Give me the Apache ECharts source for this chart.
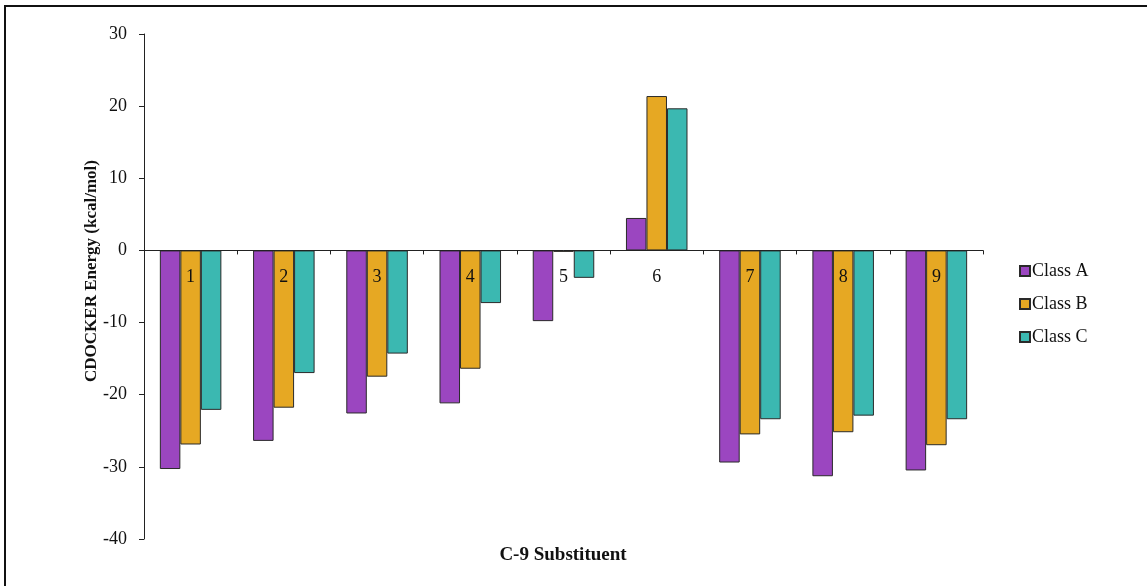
<!DOCTYPE html>
<html>
<head>
<meta charset="utf-8">
<script src="https://cdn.jsdelivr.net/npm/echarts@6/dist/echarts.min.js"></script>
<style>
html,body{margin:0;padding:0;background:#fff;}
#chart{width:1147px;height:586px;}
</style>
</head>
<body>
<div id="chart"></div>
<script>
const categories = ['1','2','3','4','5','6','7','8','9'];
const classA = [-30.3, -26.4, -22.6, -21.2, -9.8, 4.5, -29.4, -31.3, -30.5];
const classB = [-26.9, -21.8, -17.5, -16.4, -0.2, 21.4, -25.5, -25.2, -27.0];
const classC = [-22.1, -17.0, -14.3, -7.3, -3.8, 19.7, -23.4, -22.9, -23.4];
const seriesNames = ['Class A', 'Class B', 'Class C'];
const colors = ['#9B46C0', '#E6A823', '#3BB8B1'];
const yTicks = {min: -40, max: 30, interval: 10};

const FONT = '"Liberation Serif", "Times New Roman", serif';
const chart = echarts.init(document.getElementById('chart'), null, {renderer: 'canvas'});
const dataSets = [classA, classB, classC];

chart.setOption({
  animation: false,
  backgroundColor: '#fff',
  grid: {left: 144, right: 164, top: 34, bottom: 47, containLabel: false},
  legend: {
    orient: 'vertical',
    left: 1014,
    top: 257,
    itemWidth: 10,
    itemHeight: 10,
    itemGap: 15,
    icon: 'rect',
    textStyle: {fontFamily: FONT, fontSize: 18, color: '#111', padding: [0, 0, 0, -3]},
    data: seriesNames
  },
  xAxis: [{
    type: 'category',
    data: categories,
    boundaryGap: true,
    z: 5,
    axisLine: {onZero: true, lineStyle: {color: '#222', width: 1}},
    axisTick: {show: true, length: 4, lineStyle: {color: '#222'}},
    axisLabel: {show: false},
    splitLine: {show: false}
  }, {
    type: 'category',
    data: categories,
    position: 'bottom',
    offset: -289,
    z: 5,
    boundaryGap: true,
    axisLine: {show: false},
    axisTick: {show: false},
    axisLabel: {fontFamily: FONT, fontSize: 18, color: '#111', margin: 18},
    splitLine: {show: false}
  }],
  yAxis: {
    type: 'value',
    min: yTicks.min,
    max: yTicks.max,
    interval: yTicks.interval,
    axisLine: {show: true, lineStyle: {color: '#222', width: 1}},
    axisTick: {show: true, length: 5, lineStyle: {color: '#222'}},
    axisLabel: {fontFamily: FONT, fontSize: 18, color: '#111', margin: 17},
    splitLine: {show: false}
  },
  graphic: [
    {type: 'line', shape: {x1: 4, y1: 6, x2: 1147, y2: 6}, style: {stroke: '#111', lineWidth: 2}},
    {type: 'line', shape: {x1: 5, y1: 5, x2: 5, y2: 586}, style: {stroke: '#111', lineWidth: 2}},
    {type: 'text', x: 92, y: 271, rotation: Math.PI / 2,
      style: {text: 'CDOCKER Energy (kcal/mol)', fontFamily: FONT, fontSize: 17, fontWeight: 'bold', fill: '#111', align: 'center', verticalAlign: 'middle'}},
    {type: 'text', x: 563, y: 555,
      style: {text: 'C-9 Substituent', fontFamily: FONT, fontSize: 19, fontWeight: 'bold', fill: '#111', align: 'center', verticalAlign: 'middle'}}
  ],
  series: seriesNames.map((name, i) => ({
    name: name,
    type: 'bar',
    xAxisIndex: 0,
    data: dataSets[i],
    barGap: '0%',
    barCategoryGap: '34%',
    itemStyle: {color: colors[i], borderColor: '#2a2a2a', borderWidth: 1}
  }))
});
</script>
</body>
</html>
